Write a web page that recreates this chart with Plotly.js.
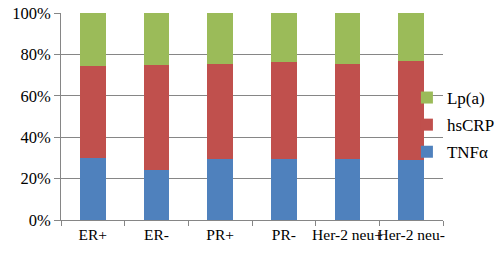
<!DOCTYPE html>
<html>
<head>
<meta charset="utf-8">
<script src="https://cdn.plot.ly/plotly-3.0.1.min.js"></script>
<style>html,body{margin:0;padding:0;background:#fff;}#chart{width:500px;height:253px;}</style>
</head>
<body>
<div id="chart"></div>
<script>
var categories = ["ER+", "ER-", "PR+", "PR-", "Her-2 neu+", "Her-2 neu-"];
var tnfAlpha = [30.1, 24.0, 29.5, 29.5, 29.7, 29.2];
var hsCRP = [44.5, 50.8, 46.1, 46.6, 45.9, 47.4];
var lpA = [25.4, 25.2, 24.4, 23.9, 24.4, 23.4];
var yTickVals = [0, 20, 40, 60, 80, 100];
var yTickText = ["0%", "20%", "40%", "60%", "80%", "100%"];

var fam = "'Liberation Serif', 'Times New Roman', serif";
var xFont = {family: fam, size: 15.5, color: "#000"};
var yFont = {family: fam, size: 16.5, color: "#000"};
var legFont = {family: fam, size: 17, color: "#000"};

var traces = [
  {type: "bar", name: "TNFα", legendgroup: "g3", legendrank: 3, x: categories, y: tnfAlpha, marker: {color: "#4F81BD"}, width: 0.4},
  {type: "bar", name: "hsCRP", legendgroup: "g2", legendrank: 2, x: categories, y: hsCRP, marker: {color: "#C0504D"}, width: 0.4},
  {type: "bar", name: "Lp(a)", legendgroup: "g1", legendrank: 1, x: categories, y: lpA, marker: {color: "#9BBB59"}, width: 0.4}
];

var layout = {
  width: 500, height: 253,
  margin: {l: 61, r: 57, t: 13, b: 33, autoexpand: false},
  barmode: "stack",
  paper_bgcolor: "#fff", plot_bgcolor: "#fff",
  font: {family: fam, size: 16, color: "#000"},
  showlegend: true,
  legend: {x: 1.149, xanchor: "right", y: 0.459, yanchor: "middle", font: legFont, bgcolor: "rgba(0,0,0,0)", traceorder: "grouped", tracegroupgap: 2},
  xaxis: {
    type: "category", tickangle: 0, tickson: "boundaries",
    ticks: "outside", ticklen: 5, tickcolor: "#868686",
    showline: true, linecolor: "#868686", linewidth: 1,
    showgrid: false, tickfont: xFont, automargin: false
  },
  yaxis: {
    range: [0, 100], tickvals: yTickVals, ticktext: yTickText,
    ticks: "outside", ticklen: 6, tickcolor: "#868686",
    showline: true, linecolor: "#868686", linewidth: 1,
    showgrid: true, gridcolor: "#868686", gridwidth: 1,
    zeroline: false, tickfont: yFont, automargin: false
  }
};

Plotly.newPlot("chart", traces, layout, {displayModeBar: false, staticPlot: true});
</script>
</body>
</html>
